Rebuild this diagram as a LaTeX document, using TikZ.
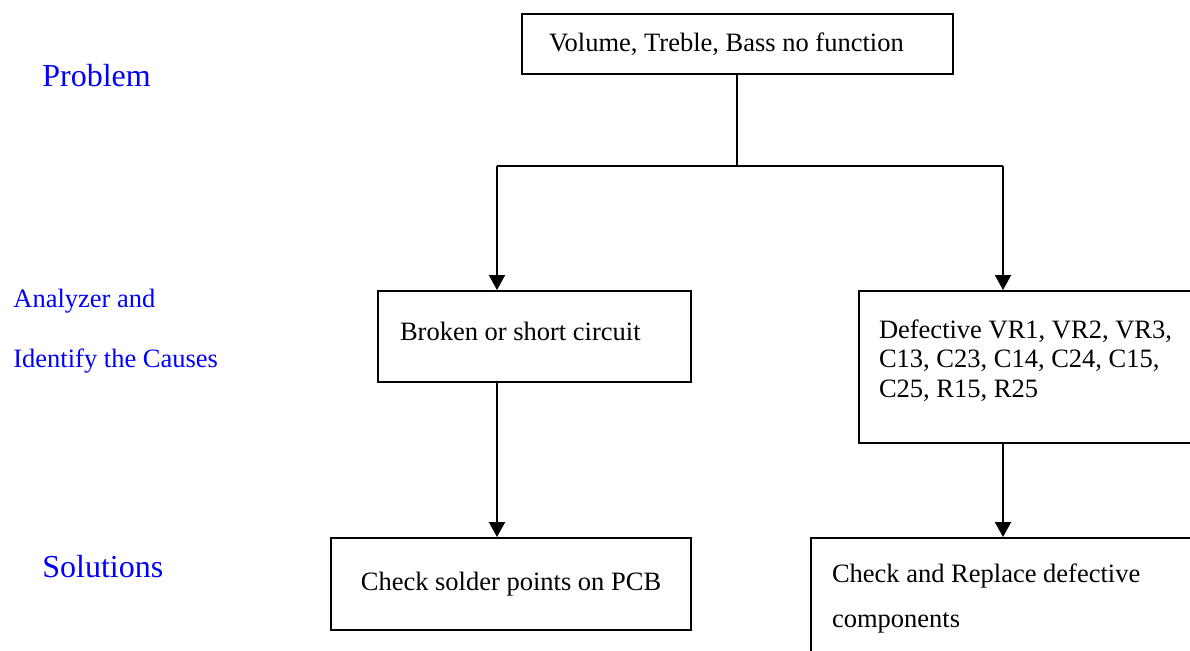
\documentclass[tikz,border=0pt]{standalone}
\usepackage{fontspec}
\setmainfont{Liberation Serif}
\usepackage{tikz}
\usetikzlibrary{positioning}
\usetikzlibrary{shapes.geometric, arrows.meta}
\tikzstyle{arrow} = [line width=1pt,-{Triangle[length=7.5pt,width=8pt]}]
\tikzstyle{box} = [draw,line width=1pt,inner ysep=0pt,font=\fontsize{13.25}{14.75}\selectfont]
\tikzstyle{stage} = [text=blue,anchor=west,inner sep=0pt]

\begin{document}
\begin{tikzpicture}[x=0.5pt,y=-0.5pt]
					\clip (0,0) rectangle (1190,650);
					
					%Nodes
					\node [box,anchor=north west,text width=188.5pt,inner xsep=13.5pt,align=flush left,minimum height=30pt] (problem) at (521,13) {Volume, Treble, Bass no function};
					\node [box,anchor=north west,text width=134.5pt,inner xsep=11pt,align=flush left,minimum height=45.5pt,text depth=5pt] (broken) at (377,290) {Broken or short circuit};
					\node [box,anchor=north west,text width=170pt,inner xsep=10pt,align=flush left,minimum height=76pt] (defective) at (858,290) {Defective VR1, VR2, VR3,\\C13, C23, C14, C24, C15,\\C25, R15, R25\rule[-8.4pt]{0pt}{8.4pt}};
					\node [box,below=77pt of broken.south west,anchor=north west,xshift=-23.5pt,minimum width=180pt,minimum height=46pt] (solder) {Check solder points on PCB};
					\node [box,below=46.5pt of defective.south west,anchor=north west,xshift=-24pt,text width=190pt,inner xsep=10.5pt,align=flush left,minimum height=60pt,font=\fontsize{13.25}{22.5}\selectfont] (replace) {Check and Replace defective\\components};
					
					%Stage labels
					\node [stage,font=\fontsize{16}{19}\selectfont] (lblproblem) at (42,76) {Problem};
					\node [stage,font=\fontsize{13.25}{15}\selectfont] (lblanalyze) at (13,301) {Analyzer and};
					\node [stage,font=\fontsize{13.25}{15}\selectfont] (lblcauses) at (13,361) {Identify the Causes};
					\node [stage,font=\fontsize{16}{19}\selectfont] (lblsolution) at (42,567) {Solutions};
					
					%Lines
					\coordinate (split) at (737,166);
					\coordinate (splitL) at (497,166);
					\coordinate (splitR) at (1003,166);
					\draw[line width=1pt] (split |- problem.south) -- (split);
					\draw[line width=1pt] (splitL) -- (splitR);
					\draw[arrow] (splitL) -- (splitL |- broken.north);
					\draw[arrow] (splitR) -- (splitR |- defective.north);
					\draw[arrow] (splitL |- broken.south) -- (splitL |- solder.north);
					\draw[arrow] (splitR |- defective.south) -- (splitR |- replace.north);
				\end{tikzpicture}
\end{document}
